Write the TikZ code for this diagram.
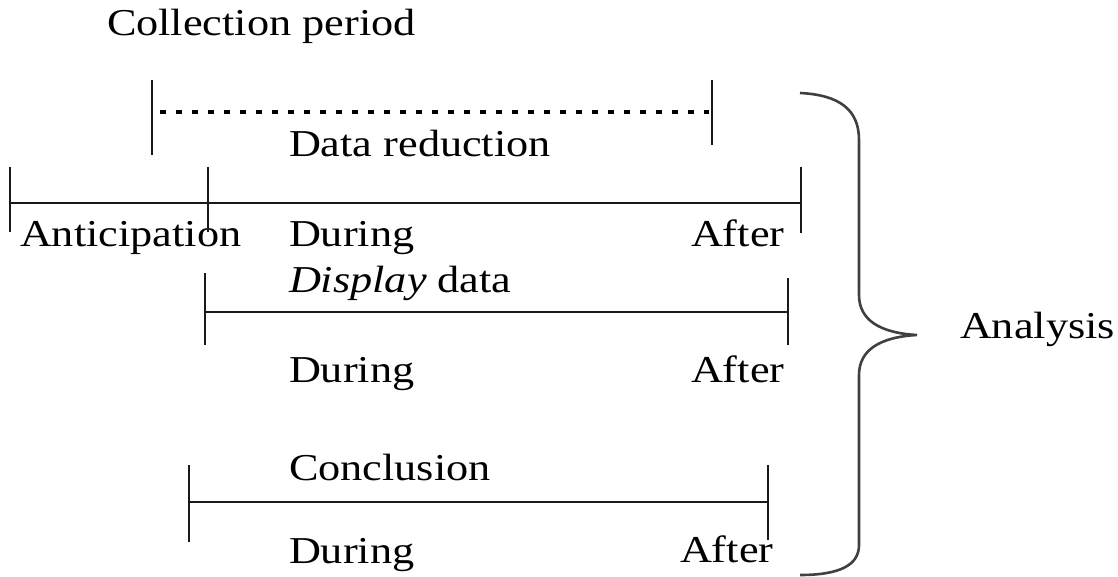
\documentclass[tikz,border=0pt]{standalone}
\usepackage{fontspec}
\setmainfont{Liberation Serif}
\begin{document}
\begin{tikzpicture}[x=1pt,y=-1pt,
  lbl/.style={anchor=base west,inner sep=0pt,outer sep=0pt,xscale=1.165,
    font=\fontsize{38}{40}\selectfont},
  ln/.style={line width=2.5pt,black!90},
  tick/.style={line width=2.8pt,black!90},
  brc/.style={line width=2.6pt,black!75}]
\useasboundingbox (0,0) rectangle (1118,577);
% texts
\node[lbl] (coll) at (107,36) {Collection period};
\node[lbl] (dred) at (289,157) {Data reduction};
\node[lbl] (antic) at (20,247) {Anticipation};
\node[lbl] (dur1) at (289,247) {During};
\node[lbl] (aft1) at (691,247) {After};
\node[lbl] (disp) at (289,292) {\textit{Display} data};
\node[lbl] (dur2) at (289,382) {During};
\node[lbl] (aft2) at (691,382) {After};
\node[lbl] (concl) at (289,480) {Conclusion};
\node[lbl] (dur3) at (289,563) {During};
\node[lbl] (aft3) at (680,562) {After};
\node[lbl] (anal) at (960,338) {Analysis};
% collection period (dotted)
\coordinate (cpL) at (152,112);
\coordinate (cpR) at (712,112);
\draw[tick] (152,80) -- (152,155);
\draw[tick] (712,80) -- (712,145);
\draw[line width=3.5pt,dash pattern=on 6pt off 10pt] ([xshift=8pt]cpL) -- ([xshift=-3pt]cpR);
% timeline 1
\coordinate (t1L) at (10,203);
\coordinate (t1M) at (208,203);
\coordinate (t1R) at (801,203);
\draw[ln] (t1L) -- (t1R);
\draw[tick] (10,167) -- (10,232);
\draw[tick] (208,167) -- (208,232);
\draw[tick] (801,167) -- (801,233);
% timeline 2
\coordinate (t2L) at (205,312);
\coordinate (t2R) at (788,312);
\draw[ln] (t2L) -- (t2R);
\draw[tick] (205,273) -- (205,345);
\draw[tick] (788,278) -- (788,345);
% timeline 3
\coordinate (t3L) at (189,502);
\coordinate (t3R) at (768,502);
\draw[ln] (t3L) -- (t3R);
\draw[tick] (189,465) -- (189,542);
\draw[tick] (768,465) -- (768,540);
% brace
\coordinate (bT) at (800,93);
\coordinate (bTip) at (917,335);
\coordinate (bB) at (800,575);
\draw[brc] (bT) .. controls (840,95) and (859,110) .. (859,140)
  -- (859,295) .. controls (859,320) and (880,333) .. (bTip)
  .. controls (880,337) and (859,350) .. (859,375)
  -- (859,545) .. controls (859,565) and (840,575) .. (bB);
\end{tikzpicture}
\end{document}
